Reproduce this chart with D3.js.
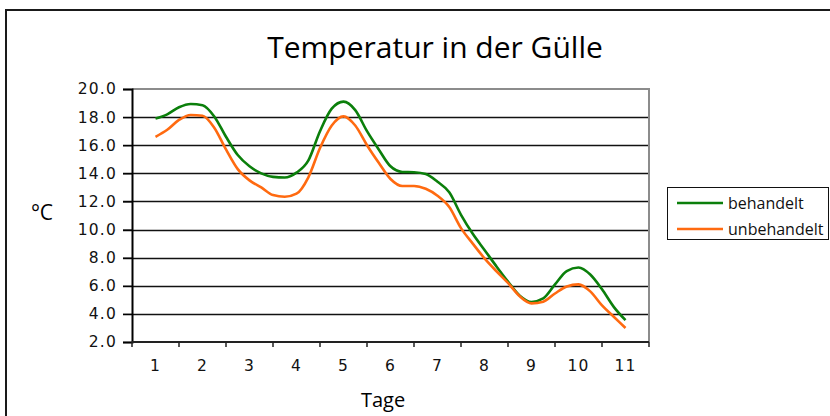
<!DOCTYPE html>
<html>
<head>
<meta charset="utf-8">
<script src="https://cdn.jsdelivr.net/npm/d3@7"></script>
<style>
  body { margin: 0; background: #fff; }
  svg { display: block; }
</style>
</head>
<body>
<svg id="chart"></svg>
<script>
// Tage (Kategorien der x-Achse)
const categories = ["1", "2", "3", "4", "5", "6", "7", "8", "9", "10", "11"];
const yTicks = [2, 4, 6, 8, 10, 12, 14, 16, 18, 20];

const tage = [
  1, 1.25, 1.5, 1.75, 2, 2.25, 2.5, 2.75, 3, 3.25, 3.5, 3.75, 4, 4.25,
  4.5, 4.75, 5, 5.25, 5.5, 5.75, 6, 6.25, 6.5, 6.75, 7, 7.25, 7.5, 7.75,
  8, 8.25, 8.5, 8.75, 9, 9.25, 9.5, 9.75, 10, 10.25, 10.5, 10.75, 11
];

const behandelt = [
  17.9, 18.2, 18.7, 18.93, 18.85, 18.05, 16.6, 15.3, 14.5, 14.0, 13.75, 13.7, 14.05, 14.9,
  17.0, 18.6, 19.1, 18.5, 17.0, 15.7, 14.5, 14.1, 14.08, 13.95, 13.4, 12.65, 11.05, 9.7,
  8.55, 7.4, 6.3, 5.3, 4.85, 5.1, 6.1, 7.05, 7.3, 6.8, 5.75, 4.5, 3.55
];

const unbehandelt = [
  16.6, 17.1, 17.8, 18.15, 18.1, 17.25, 15.7, 14.3, 13.5, 13.0, 12.45, 12.33, 12.55, 13.7,
  15.8, 17.4, 18.05, 17.4, 16.0, 14.75, 13.6, 13.1, 13.1, 12.9, 12.4, 11.6, 10.1, 9.0,
  7.95, 7.05, 6.2, 5.25, 4.75, 4.87, 5.45, 5.95, 6.1, 5.6, 4.6, 3.8, 3.0
];

const series = [
  { name: "behandelt", values: behandelt, color: "#0b7f0b" },
  { name: "unbehandelt", values: unbehandelt, color: "#ff6a10" }
];

const W = 830, H = 416;
const plot = { left: 132, top: 89, right: 649, bottom: 342 };

const svg = d3.select("#chart").attr("width", W).attr("height", H);

// outer chart frame
svg.append("rect")
  .attr("x", 6).attr("y", 10)
  .attr("width", 900).attr("height", 500)
  .attr("fill", "none")
  .attr("stroke", "#1a1a1a")
  .attr("stroke-width", 2);

// title
svg.append("text")
  .attr("x", 435).attr("y", 58)
  .attr("text-anchor", "middle")
  .attr("font-family", "Open Sans")
  .attr("font-size", 30)
  .text("Temperatur in der Gülle");

const xBand = d3.scaleBand()
  .domain(categories)
  .range([plot.left, plot.right]);

const bw = xBand.bandwidth();
const xScale = d3.scaleLinear()
  .domain([1, 11])
  .range([xBand("1") + bw / 2, xBand("11") + bw / 2]);

const yScale = d3.scaleLinear()
  .domain([2, 20])
  .range([plot.bottom, plot.top]);

// gridlines
svg.append("g")
  .selectAll("line")
  .data(yTicks.filter((d) => d > 2 && d < 20))
  .join("line")
  .attr("x1", plot.left - 9)
  .attr("x2", plot.right)
  .attr("y1", (d) => Math.round(yScale(d)) + 0.5)
  .attr("y2", (d) => Math.round(yScale(d)) + 0.5)
  .attr("stroke", "#111")
  .attr("stroke-width", 1.3);

// plot border top / right (gray)
svg.append("path")
  .attr("d", `M${plot.left},${plot.top}H${plot.right}V${plot.bottom}`)
  .attr("fill", "none")
  .attr("stroke", "#8c8c8c")
  .attr("stroke-width", 2);

// Y Axis
const yAxis = svg.append("g")
  .attr("transform", `translate(${plot.left}, 0)`)
  .call(d3.axisLeft(yScale).tickValues(yTicks).tickFormat(d3.format(".1f")).tickSize(9).tickPadding(6));
yAxis.select(".domain").attr("stroke", "#000").attr("stroke-width", 2);
yAxis.selectAll(".tick line").attr("stroke", "#000").attr("stroke-width", 1.3);
yAxis.selectAll("text")
  .attr("font-family", "DejaVu Sans")
  .attr("font-size", 15.5)
  .attr("fill", "#111")
  .attr("letter-spacing", 1.2);

// X Axis (ticks between categories)
const xAxis = svg.append("g")
  .attr("transform", `translate(0, ${plot.bottom})`);
xAxis.append("line")
  .attr("x1", plot.left).attr("x2", plot.right)
  .attr("y1", 0).attr("y2", 0)
  .attr("stroke", "#222")
  .attr("stroke-width", 2);
xAxis.selectAll(".xtick")
  .data(categories.map((c) => xBand(c)).concat([plot.right]))
  .join("line")
  .attr("class", "xtick")
  .attr("x1", (d) => d).attr("x2", (d) => d)
  .attr("y1", 0).attr("y2", 5)
  .attr("stroke", "#222")
  .attr("stroke-width", 1.5);
xAxis.selectAll(".xlabel")
  .data(categories)
  .join("text")
  .attr("class", "xlabel")
  .attr("x", (d) => xBand(d) + bw / 2)
  .attr("y", 29)
  .attr("text-anchor", "middle")
  .attr("font-family", "DejaVu Sans")
  .attr("font-size", 15.5)
  .attr("fill", "#111")
  .attr("letter-spacing", 1.2)
  .text((d) => d);

// axis titles
svg.append("text")
  .attr("x", 383).attr("y", 407)
  .attr("text-anchor", "middle")
  .attr("font-family", "Open Sans")
  .attr("font-size", 20)
  .text("Tage");

svg.append("text")
  .attr("x", 42).attr("y", 220)
  .attr("text-anchor", "middle")
  .attr("font-family", "Open Sans")
  .attr("font-size", 21)
  .text("°C");

// lines
const lineGenerator = d3.line()
  .x((d, i) => xScale(tage[i]))
  .y((d) => yScale(d))
  .curve(d3.curveMonotoneX);

svg.append("g")
  .selectAll("path")
  .data(series)
  .join("path")
  .attr("d", (s) => lineGenerator(s.values))
  .attr("fill", "none")
  .attr("stroke", (s) => s.color)
  .attr("stroke-width", 2.6)
  .attr("stroke-linejoin", "round");

// legend
const legend = svg.append("g");
legend.append("rect")
  .attr("x", 667.5).attr("y", 187.5)
  .attr("width", 161).attr("height", 52)
  .attr("fill", "#fff")
  .attr("stroke", "#111")
  .attr("stroke-width", 1);

const legendItems = legend.selectAll(".item")
  .data(series)
  .join("g")
  .attr("class", "item")
  .attr("transform", (d, i) => `translate(677, ${203 + i * 26})`);
legendItems.append("line")
  .attr("x1", 0).attr("x2", 46)
  .attr("stroke", (d) => d.color)
  .attr("stroke-width", 2.6);
legendItems.append("text")
  .attr("x", 51).attr("y", 6)
  .attr("font-family", "Open Sans")
  .attr("font-size", 16)
  .attr("fill", "#111")
  .text((d) => d.name);
</script>
</body>
</html>
